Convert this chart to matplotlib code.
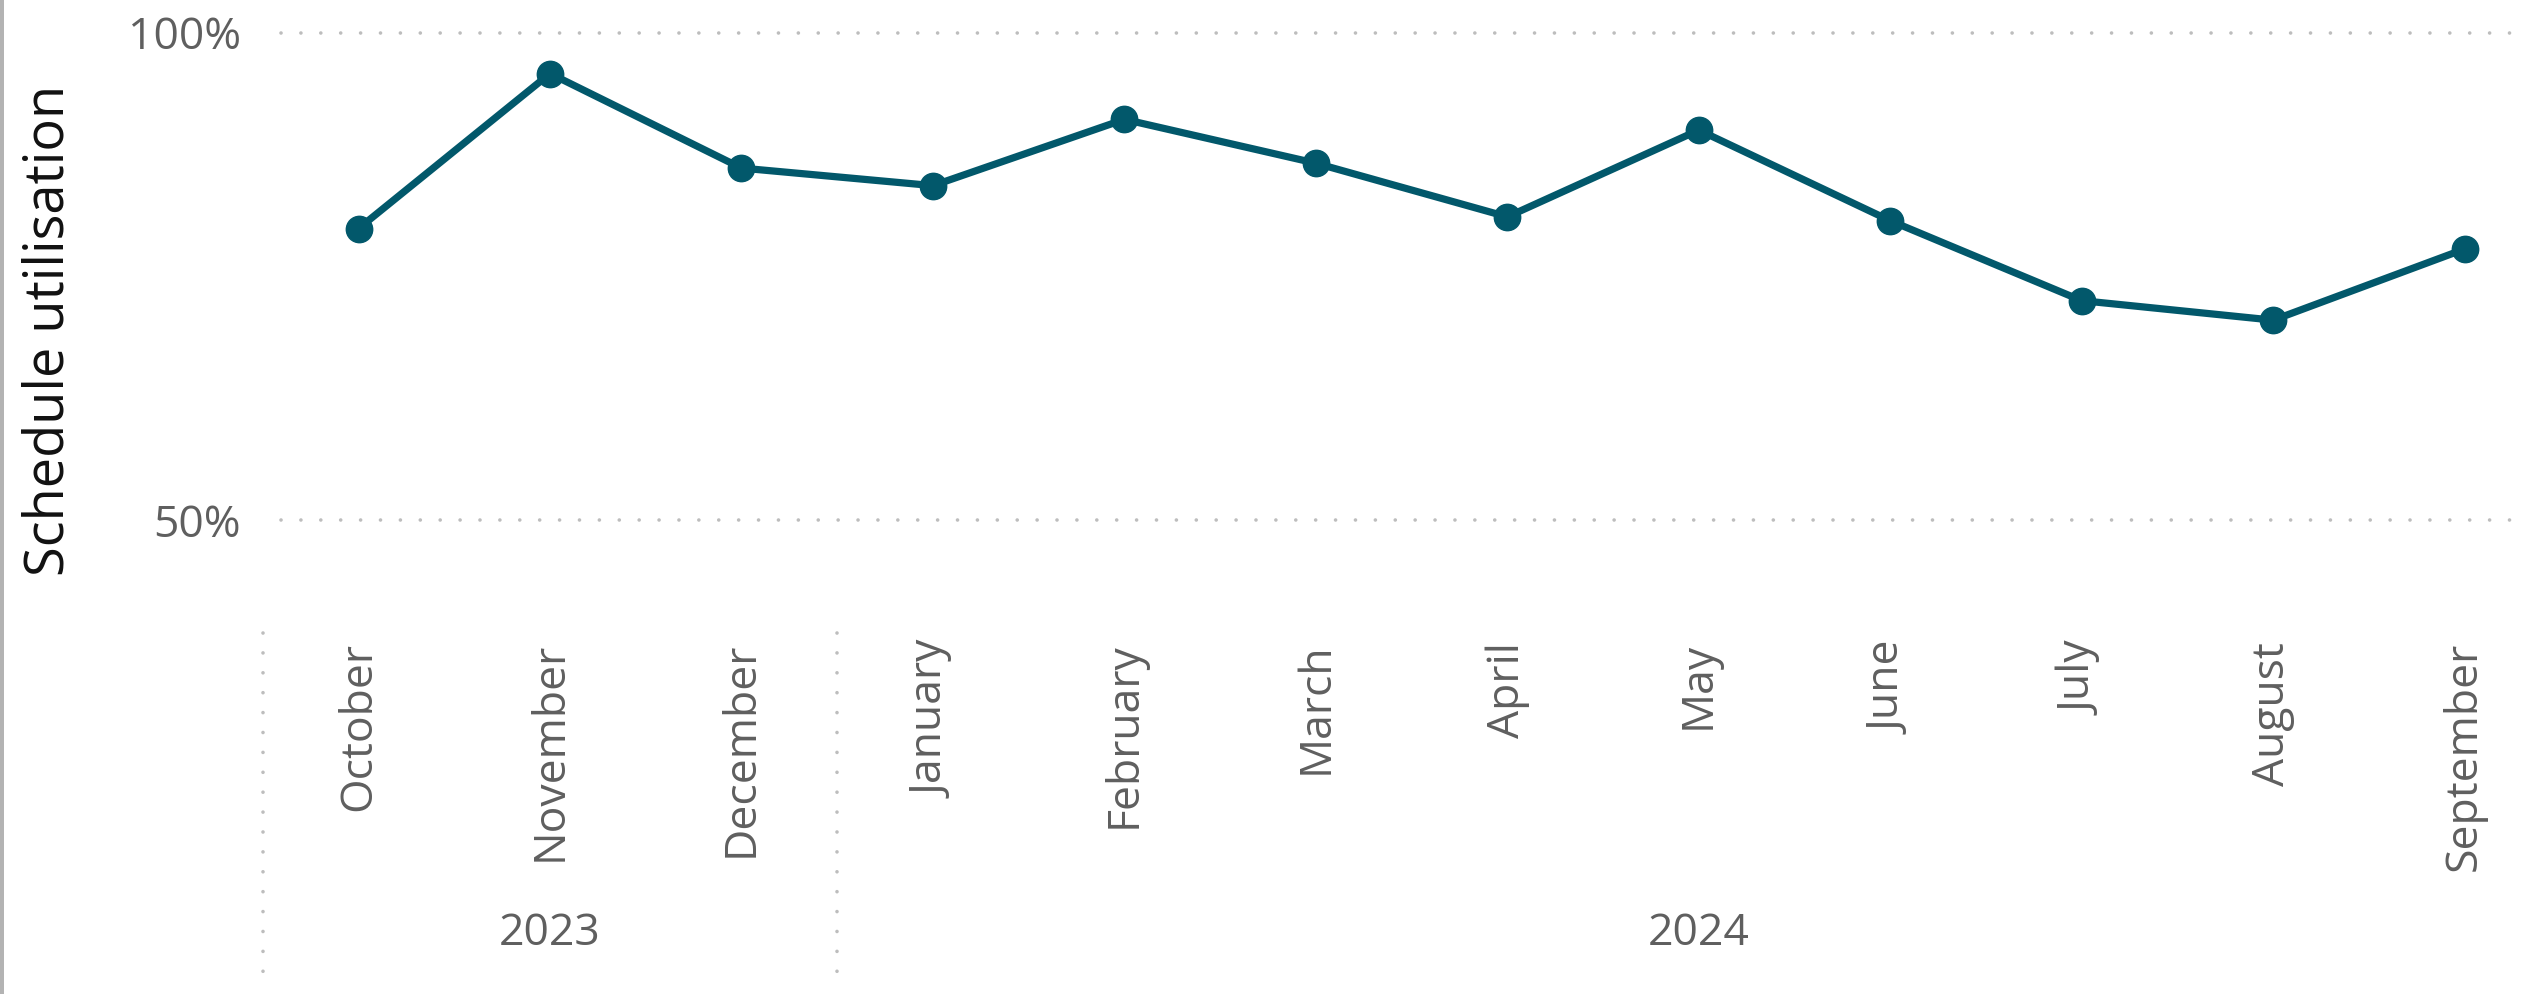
import matplotlib
matplotlib.use("Agg")
import matplotlib.pyplot as plt
from matplotlib.transforms import blended_transform_factory
from matplotlib.patches import Rectangle
from matplotlib.ticker import FuncFormatter

# --- данные ---
months = ["October", "November", "December", "January", "February", "March",
          "April", "May", "June", "July", "August", "September"]
years = ["2023", "2024"]
year_spans = [(0, 2), (3, 11)]
utilisation = [0.799, 0.958, 0.861, 0.843, 0.911, 0.866,
               0.811, 0.900, 0.807, 0.725, 0.705, 0.778]
y_ticks = [0.5, 1.0]

plt.rcParams["font.family"] = ["Open Sans", "DejaVu Sans"]

line_color = "#02586b"
grid_color = "#bdbdbd"
text_gray = "#5f5f5f"

fig = plt.figure(figsize=(25.34, 9.94), dpi=100)
ax = fig.add_axes([0.1109, 0.4769, 0.8844, 0.4903])

x = list(range(len(months)))
ax.plot(x, utilisation, color=line_color, lw=5.2, marker="o", ms=19,
        solid_joinstyle="round", zorder=3, clip_on=False)

ax.set_xlim(-0.405, 11.30)
ax.set_ylim(0.5, 1.0)

# --- сетка ---
for yv in y_ticks:
    ax.axhline(yv, color=grid_color, lw=2.6, linestyle=(0, (0.01, 5.5)),
               dash_capstyle="round", clip_on=False, zorder=1)

for s in ax.spines.values():
    s.set_visible(False)
ax.set_xticks([])
ax.set_yticks(y_ticks)
ax.yaxis.set_major_formatter(FuncFormatter(lambda v, p: f"{v:.0%}"))
ax.tick_params(axis="y", length=0, pad=29, labelsize=32, labelcolor=text_gray)

# --- подписи месяцев и годов ---
tr = blended_transform_factory(ax.transData, fig.transFigure)
for i, m in enumerate(months):
    ax.text(i, 0.354, m, transform=tr, rotation=90, ha="center", va="top",
            fontsize=32, color=text_gray)

for (a, b), yr in zip(year_spans, years):
    ax.text((a + b) / 2, 0.0604, yr, transform=tr, ha="center", va="center",
            fontsize=32, color=text_gray)

for xs in [-0.5, 2.5]:
    ax.plot([xs, xs], [0.3632, 0.0161], transform=tr, color=grid_color,
            lw=2.6, linestyle=(0, (0.01, 5.5)), dash_capstyle="round",
            clip_on=False)

fig.text(0.0193, 0.668, "Schedule utilisation", rotation=90, ha="center",
         va="center", fontsize=39, color="#111111")

fig.add_artist(Rectangle((0, 0), 3.5 / 2534, 1, transform=fig.transFigure,
                         color="#b3b3b3", lw=0))

fig.savefig("out.png", dpi=100)
